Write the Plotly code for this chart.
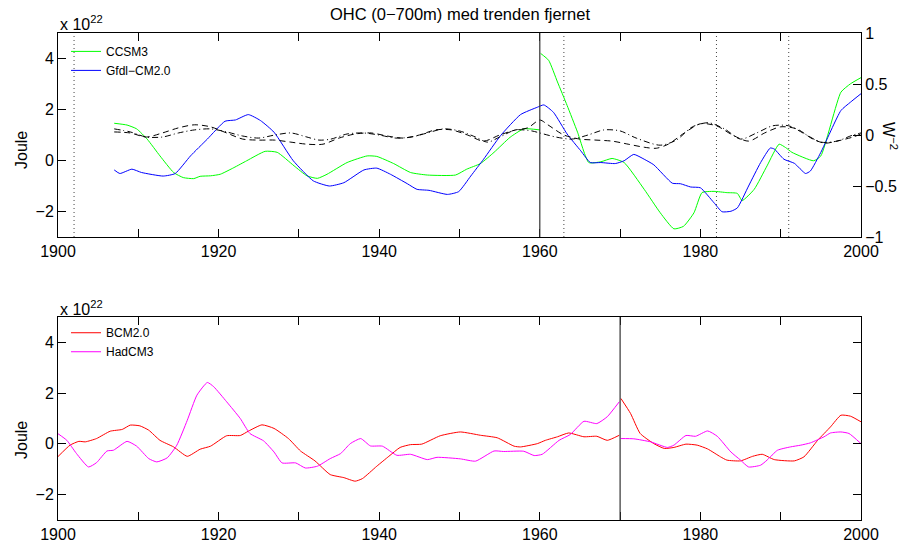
import plotly.graph_objects as go

FONT = "Liberation Sans, Arial, Helvetica, sans-serif"

# ---- Upper panel: CCSM3 and GFDL-CM2.0 ocean heat content (x 1e22 J) ----
ccsm3_years = [1907.0, 1908.6, 1909.8, 1911.1, 1912.7, 1914.4, 1915.6, 1916.9, 1917.7, 1919.0,
               1920.2, 1921.9, 1923.5, 1925.8, 1927.3, 1929.4, 1931.0, 1932.3, 1933.5, 1936.0,
               1938.5, 1939.7, 1941.8, 1943.9, 1946.0, 1949.5, 1950.9, 1952.6, 1954.3, 1956.3,
               1958.0, 1960.0, None,
               1960.1, 1961.1, 1962.2, 1963.4, 1964.7, 1966.1, 1967.6, 1969.0, 1970.5, 1973.0,
               1975.0, 1976.7, 1977.9, 1979.2, 1980.2, 1981.7, 1983.3, 1984.6, 1985.2, 1986.7,
               1988.3, 1989.8, 1990.6, 1991.4, 1994.1, 1995.0, 1997.5, 1998.7, 2000.0]
ccsm3_ohc = [1.46, 1.39, 1.24, 0.84, 0.18, -0.47, -0.67, -0.71, -0.62, -0.60,
             -0.54, -0.28, -0.01, 0.36, 0.32, -0.21, -0.60, -0.70, -0.54, -0.08,
             0.18, 0.16, -0.12, -0.47, -0.57, -0.57, -0.34, -0.12, 0.32, 0.91,
             1.24, 1.20, None,
             4.20, 3.93, 3.08, 2.16, 1.11, -0.08, -0.05, 0.08, -0.08, -1.13,
             -2.05, -2.68, -2.58, -2.05, -1.26, -1.21, -1.26, -1.29, -1.57, -1.13,
             -0.21, 0.64, 0.51, 0.32, -0.01, 0.18, 2.68, 3.01, 3.25]

gfdl_years = [1907.0, 1907.7, 1909.2, 1910.4, 1913.1, 1914.6, 1916.5, 1918.6, 1920.8, 1922.1,
              1923.7, 1925.2, 1926.9, 1929.3, 1931.8, 1933.8, 1935.6, 1938.1, 1939.7, 1941.4,
              1943.5, 1944.7, 1946.2, 1948.5, 1949.9, 1951.4, 1953.0, 1955.1, 1957.6, 1959.7,
              1960.5, 1961.7, 1963.4, 1965.1, 1966.3, 1967.6, 1969.4, 1970.5, 1971.7, 1973.0,
              1974.2, 1976.5, 1977.5, 1978.8, 1980.0, 1981.7, 1982.7, 1983.8, 1984.6, 1986.0,
              1987.5, 1988.7, 1989.2, 1990.4, 1991.7, 1993.1, 1993.7, 1995.0, 1997.5, 1998.7,
              2000.0]
gfdl_ohc = [-0.37, -0.51, -0.34, -0.47, -0.61, -0.51, 0.18, 0.84, 1.54, 1.59,
            1.80, 1.57, 1.11, -0.01, -0.80, -1.00, -0.87, -0.37, -0.30, -0.54,
            -0.91, -1.13, -1.17, -1.33, -1.22, -0.61, 0.05, 0.97, 1.80, 2.09,
            2.18, 1.89, 1.04, 0.38, -0.08, -0.08, -0.12, -0.01, 0.24, 0.05,
            -0.17, -0.89, -0.91, -1.04, -1.07, -1.66, -2.01, -1.99, -1.86, -1.00,
            -0.08, 0.49, 0.45, 0.05, -0.11, -0.51, -0.41, 0.32, 1.96, 2.29,
            2.62]

# Radiative forcing anomalies on the right-hand axis (W m^-2)
forcing_dash_years = [1907, 1909, 1911, 1913, 1915, 1917, 1919, 1921, 1923, 1925,
                      1927, 1929, 1931, 1933, 1935, 1937, 1939, 1941, 1943, 1945,
                      1947, 1949, 1951, 1953, 1955, 1957, 1958.5, 1960, 1961, 1963,
                      1965, 1967, 1969, 1971, 1973, 1974.5, 1976, 1978, 1980, 1982,
                      1984, 1986, 1988, 1990, 1992, 1994, 1995.5, 1997, 1999, 2000]
forcing_dash = [0.03, 0.02, -0.02, 0.02, 0.07, 0.10, 0.08, 0.02, -0.04, -0.05,
                -0.05, -0.07, -0.09, -0.09, -0.03, 0.01, 0.02, -0.01, -0.03, 0.00,
                0.05, 0.05, 0.00, -0.06, 0.00, 0.05, 0.07, 0.147, 0.10, 0.00,
                -0.04, -0.05, -0.06, -0.09, -0.12, -0.13, -0.09, 0.02, 0.11, 0.09,
                0.00, -0.06, 0.02, 0.08, 0.06, -0.04, -0.08, -0.06, -0.02, 0.01]

forcing_dashdot_years = [1907, 1909, 1911, 1913, 1915, 1917, 1919, 1921, 1923, 1925,
                         1927, 1929, 1931, 1932.5, 1934, 1936, 1938, 1940, 1942, 1944,
                         1946, 1948, 1950, 1952, 1953.5, 1955, 1957, 1959, 1960, 1962,
                         1964, 1966, 1968, 1970, 1972, 1975, 1977, 1979, 1981, 1983,
                         1985, 1987, 1989, 1991, 1993, 1995, 1997, 1999, 2000]
forcing_dashdot = [0.06, 0.03, -0.02, -0.02, 0.02, 0.05, 0.06, 0.03, -0.01, -0.03,
                   0.00, 0.02, -0.02, -0.05, -0.04, 0.01, 0.02, 0.00, -0.03, -0.02,
                   0.02, 0.06, 0.04, -0.02, -0.07, -0.02, 0.05, 0.04, 0.02, -0.02,
                   -0.04, 0.00, 0.05, 0.04, -0.03, -0.10, -0.05, 0.08, 0.12, 0.06,
                   -0.04, 0.02, 0.09, 0.09, 0.01, -0.07, -0.06, 0.00, 0.02]

# ---- Lower panel: BCM2.0 and HadCM3 ocean heat content (x 1e22 J) ----
bcm_years = [1900.0, 1901.5, 1902.6, 1903.4, 1904.8, 1906.5, 1908.0, 1909.0, 1910.2, 1911.3,
             1912.7, 1914.4, 1916.1, 1917.7, 1919.0, 1921.0, 1922.7, 1923.7, 1925.4, 1926.9,
             1928.7, 1930.2, 1932.0, 1933.9, 1935.6, 1937.0, 1937.9, 1939.7, 1941.2, 1942.6,
             1943.9, 1945.3, 1947.6, 1950.1, 1952.6, 1954.7, 1956.8, 1957.6, 1959.7, 1960.7,
             1962.2, 1963.6, 1965.5, 1967.1, 1968.4, 1969.9, None,
             1970.1, 1971.3, 1972.5, 1974.2, 1975.5, 1976.7, 1978.2, 1979.6, 1980.9, 1982.5,
             1983.3, 1985.0, 1986.5, 1987.7, 1989.2, 1991.7, 1992.9, 1994.6, 1996.2, 1997.5,
             1998.7, 2000.0]
bcm_ohc = [-0.50, -0.05, 0.10, 0.08, 0.21, 0.50, 0.57, 0.74, 0.71, 0.54,
           0.14, -0.12, -0.49, -0.21, -0.09, 0.32, 0.33, 0.50, 0.75, 0.61,
           0.21, -0.28, -0.67, -1.21, -1.33, -1.47, -1.37, -0.88, -0.49, -0.14,
           -0.03, -0.01, 0.32, 0.47, 0.34, 0.24, -0.09, -0.12, 0.01, 0.14,
           0.28, 0.43, 0.28, 0.30, 0.14, 0.34, None,
           1.79, 1.20, 0.41, 0.01, -0.18, -0.14, -0.01, -0.05, -0.20, -0.51,
           -0.64, -0.67, -0.49, -0.41, -0.62, -0.67, -0.51, 0.14, 0.67, 1.13,
           1.09, 0.87]

hadcm3_years = [1900.0, 1901.1, 1902.3, 1903.8, 1904.8, 1906.1, 1906.9, 1908.6, 1909.8, 1911.3,
                1912.3, 1913.6, 1914.8, 1916.1, 1917.3, 1918.6, 1919.4, 1921.0, 1922.7, 1923.9,
                1925.6, 1926.9, 1927.9, 1929.6, 1930.8, 1932.3, 1933.9, 1935.2, 1936.4, 1937.7,
                1938.9, 1940.4, 1942.2, 1943.9, 1946.0, 1947.2, 1950.1, 1952.0, 1954.3, 1955.5,
                1958.0, 1959.3, 1960.3, 1962.4, 1963.8, 1965.5, 1967.1, 1968.4, 1969.9, None,
                1970.1, 1971.7, 1973.8, 1975.9, 1976.7, 1978.2, 1979.4, 1980.9, 1982.1, 1983.8,
                1985.0, 1986.0, 1987.5, 1988.3, 1989.6, 1991.2, 1992.5, 1993.7, 1995.4, 1996.2,
                1997.5, 1998.5, 2000.0]
hadcm3_ohc = [0.40, 0.14, -0.38, -0.91, -0.74, -0.28, -0.25, 0.10, -0.09, -0.58,
              -0.71, -0.55, -0.05, 0.93, 1.92, 2.42, 2.25, 1.66, 1.00, 0.41,
              0.12, -0.32, -0.75, -0.75, -0.95, -0.88, -0.58, -0.38, 0.01, 0.21,
              -0.08, -0.09, -0.45, -0.41, -0.62, -0.53, -0.59, -0.68, -0.28, -0.30,
              -0.29, -0.46, -0.41, 0.14, 0.37, 0.89, 0.80, 1.07, 1.66, None,
              0.21, 0.20, 0.08, -0.14, -0.05, 0.33, 0.30, 0.51, 0.30, -0.32,
              -0.64, -0.91, -0.84, -0.64, -0.25, -0.12, -0.05, 0.04, 0.28, 0.43,
              0.47, 0.41, 0.01]

# Volcanic eruption years and restart years
eruption_years = [1902, 1963, 1982, 1991]
restart_year_top = 1960
restart_year_bottom = 1970

# Axis ticks
year_ticks = [1900, 1910, 1920, 1930, 1940, 1950, 1960, 1970, 1980, 1990, 2000]
year_labels = ["1900", "", "1920", "", "1940", "", "1960", "", "1980", "", "2000"]
ohc_ticks = [-2, 0, 2, 4]
forcing_ticks = [-1, -0.5, 0, 0.5, 1]
forcing_labels = ["\u22121", "\u22120.5", "0", "0.5", "1"]

fig = go.Figure()

line_kw = dict(shape="spline", smoothing=0.5, width=1)

fig.add_trace(go.Scatter(x=ccsm3_years, y=ccsm3_ohc, name="CCSM3", mode="lines",
                         line=dict(color="#00ff00", **line_kw), xaxis="x", yaxis="y",
                         legend="legend", connectgaps=False))
fig.add_trace(go.Scatter(x=gfdl_years, y=gfdl_ohc, name="Gfdl\u2212CM2.0", mode="lines",
                         line=dict(color="#0000ff", **line_kw), xaxis="x", yaxis="y",
                         legend="legend"))
fig.add_trace(go.Scatter(x=forcing_dash_years, y=forcing_dash, mode="lines", showlegend=False,
                         line=dict(color="black", dash="6px,4px", shape="spline",
                                   smoothing=0.8, width=1),
                         xaxis="x", yaxis="y2"))
fig.add_trace(go.Scatter(x=forcing_dashdot_years, y=forcing_dashdot, mode="lines", showlegend=False,
                         line=dict(color="black", dash="6px,3px,1px,3px", shape="spline",
                                   smoothing=0.8, width=1),
                         xaxis="x", yaxis="y2"))
fig.add_trace(go.Scatter(x=bcm_years, y=bcm_ohc, name="BCM2.0", mode="lines",
                         line=dict(color="#ff0000", **line_kw), xaxis="x2", yaxis="y3",
                         legend="legend2"))
fig.add_trace(go.Scatter(x=hadcm3_years, y=hadcm3_ohc, name="HadCM3", mode="lines",
                         line=dict(color="#ff00ff", **line_kw), xaxis="x2", yaxis="y3",
                         legend="legend2"))

# Vertical markers
for yr in eruption_years:
    fig.add_shape(type="line", xref="x", yref="y domain", x0=yr, x1=yr, y0=0, y1=1,
                  line=dict(color="#444444", width=1, dash="1px,3px"), layer="below")
fig.add_shape(type="line", xref="x", yref="y domain", x0=restart_year_top, x1=restart_year_top,
              y0=0, y1=1, line=dict(color="#333333", width=1.2), layer="above")
fig.add_shape(type="line", xref="x2", yref="y3 domain", x0=restart_year_bottom,
              x1=restart_year_bottom, y0=0, y1=1, line=dict(color="#333333", width=1.2),
              layer="above")

axis_common = dict(showline=True, linecolor="black", linewidth=1, ticks="inside", ticklen=8,
                   tickcolor="black", tickwidth=1, showgrid=False, zeroline=False,
                   tickfont=dict(family=FONT, size=16, color="black"), automargin=False)

top_dom = [0.5811, 1.0]
bot_dom = [0.0, 0.4168]

fig.update_layout(
    width=903, height=545,
    margin=dict(l=58, r=42, t=33, b=25),
    paper_bgcolor="white", plot_bgcolor="white",
    font=dict(family=FONT, size=16, color="black"),
    hovermode=False,
    xaxis=dict(domain=[0, 1], anchor="y", range=[1900, 2000], tickvals=year_ticks,
               ticktext=year_labels, mirror="ticks", **axis_common),
    yaxis=dict(domain=top_dom, anchor="x", range=[-3, 5], tickvals=ohc_ticks, **axis_common),
    yaxis2=dict(overlaying="y", side="right", anchor="x", range=[-1, 1], tickvals=forcing_ticks,
                ticktext=forcing_labels, **axis_common),
    xaxis2=dict(domain=[0, 1], anchor="y3", range=[1900, 2000], tickvals=year_ticks,
                ticktext=year_labels, mirror="ticks", **axis_common),
    yaxis3=dict(domain=bot_dom, anchor="x2", range=[-3, 5], tickvals=ohc_ticks, mirror="ticks",
                **axis_common),
    legend=dict(x=0.01, y=0.992, xanchor="left", yanchor="top", bgcolor="rgba(0,0,0,0)",
                borderwidth=0, font=dict(family=FONT, size=12), tracegroupgap=0,
                itemwidth=30),
    legend2=dict(x=0.01, y=0.4143, xanchor="left", yanchor="top", bgcolor="rgba(0,0,0,0)",
                 borderwidth=0, font=dict(family=FONT, size=12), tracegroupgap=0,
                 itemwidth=30),
)

annotations = [
    dict(text="OHC (0\u2212700m) med trenden fjernet", xref="paper", yref="paper", x=0.5, y=1.039,
         xanchor="center", yanchor="middle", showarrow=False, font=dict(size=16.5)),
    dict(text="x 10<sup>22</sup>", xref="paper", yref="paper", x=0.0, y=1.0205,
         xanchor="left", yanchor="middle", showarrow=False, font=dict(size=16)),
    dict(text="x 10<sup>22</sup>", xref="paper", yref="paper", x=0.0, y=0.4363,
         xanchor="left", yanchor="middle", showarrow=False, font=dict(size=16)),
    dict(text="Joule", xref="paper", yref="paper", x=-0.0448, y=0.7598, textangle=-90,
         xanchor="center", yanchor="middle", showarrow=False, font=dict(size=16)),
    dict(text="Joule", xref="paper", yref="paper", x=-0.0448, y=0.1643, textangle=-90,
         xanchor="center", yanchor="middle", showarrow=False, font=dict(size=16)),
    dict(text="W<sup>\u22122</sup>", xref="paper", yref="paper", x=1.036, y=0.7885, textangle=90,
         xanchor="center", yanchor="middle", showarrow=False, font=dict(size=16)),
]
fig.update_layout(annotations=annotations)

fig.write_html("out.html")
